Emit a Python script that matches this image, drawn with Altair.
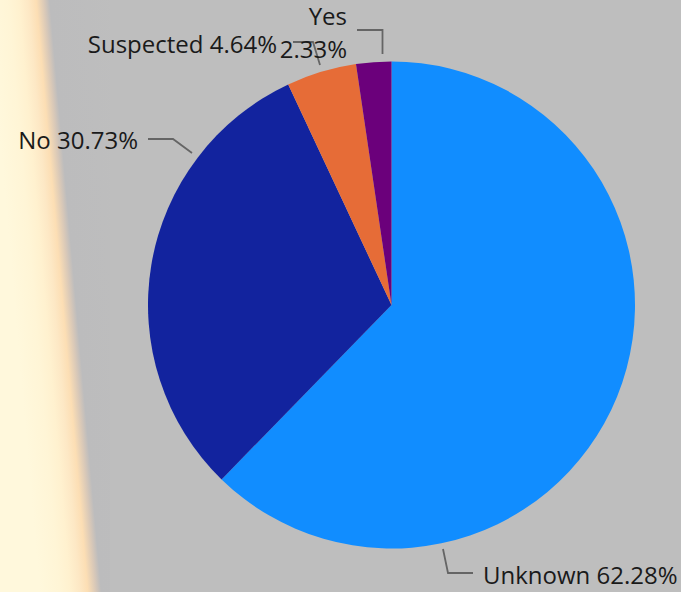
import altair as alt
import pandas as pd

# ---- data ----
categories = ["Unknown", "No", "Suspected", "Yes"]
shares = [62.28, 30.73, 4.64, 2.33]
colors = ["#118DFF", "#12239E", "#E66C37", "#6B007B"]

W, H = 681, 592
CX, CY, R = 391.5, 305, 243.5
FONT = "Open Sans"

pie_df = pd.DataFrame({"category": categories, "share": shares,
                       "order": list(range(len(categories)))})

# ---- label layout (pixel positions of data labels / leader lines) ----
leader_rows = []
leaders = {
    "Unknown": [(443, 549), (448, 573), (473, 573)],
    "No": [(192, 153), (173, 139), (148, 139)],
    "Suspected": [(320, 65), (313, 42), (293, 42)],
    "Yes": [(382.5, 54), (382.5, 30), (357, 30)],
}
for cat, pts in leaders.items():
    for i, (px, py) in enumerate(pts):
        leader_rows.append({"category": cat, "i": i, "px": px, "py": py})
leader_df = pd.DataFrame(leader_rows)

label_rows = []
label_pos = {
    "Unknown": [(483, 584, "left", "{c} {v:.2f}%")],
    "No": [(138, 149, "right", "{c} {v:.2f}%")],
    "Suspected": [(277, 53, "right", "{c} {v:.2f}%")],
    "Yes": [(347, 25, "right", "{c}"), (347, 58, "right", "{v:.2f}%")],
}
for c, v in zip(categories, shares):
    for (px, py, al, fmt) in label_pos[c]:
        label_rows.append({"category": c, "label": fmt.format(c=c, v=v),
                           "px": px, "py": py, "align": al})
label_df = pd.DataFrame(label_rows)

# ---- decorative left strip ----
strip = alt.Chart(pd.DataFrame({"a": [0]})).mark_rect(
    color=alt.LinearGradient(
        gradient="linear",
        stops=[
            alt.GradientStop(color="#FFF8DC", offset=0),
            alt.GradientStop(color="#FFF5D6", offset=0.15),
            alt.GradientStop(color="#FFF1CF", offset=0.23),
            alt.GradientStop(color="#FDE8C5", offset=0.30),
            alt.GradientStop(color="#FCDEB4", offset=0.36),
            alt.GradientStop(color="#D8C8B8", offset=0.42),
            alt.GradientStop(color="#BCBCBD", offset=0.46),
            alt.GradientStop(color="#BEBEBE", offset=1),
        ],
        x1=0, y1=0.235, x2=1, y2=-0.235,
    )
).encode(x=alt.value(0), x2=alt.value(110), y=alt.value(0), y2=alt.value(H))

pie = alt.Chart(pie_df).mark_arc(outerRadius=R).encode(
    theta=alt.Theta("share:Q", stack=True),
    order=alt.Order("order:Q", sort="ascending"),
    color=alt.Color("category:N",
                    scale=alt.Scale(domain=categories, range=colors),
                    legend=None),
    x=alt.value(CX), y=alt.value(CY),
)

lines = alt.Chart(leader_df).mark_line(color="#656565", strokeWidth=1.8).encode(
    x=alt.X("px:Q", scale=None, axis=None),
    y=alt.Y("py:Q", scale=None, axis=None),
    detail="category:N",
    order="i:Q",
)

def text_layer(al):
    return alt.Chart(label_df).transform_filter(
        alt.datum.align == al
    ).mark_text(align=al, baseline="alphabetic", font=FONT, fontSize=24,
                color="#1A1A1A").encode(
        x=alt.X("px:Q", scale=None, axis=None),
        y=alt.Y("py:Q", scale=None, axis=None),
        text="label:N",
    )

chart = alt.layer(strip, pie, lines, text_layer("left"), text_layer("right")).properties(
    width=W, height=H,
    autosize=alt.AutoSizeParams(type="none"),
    padding=0,
    background="#BEBEBE",
).configure_view(stroke=None)

chart.save("out.html", embed_options={"renderer": "svg", "actions": False})
